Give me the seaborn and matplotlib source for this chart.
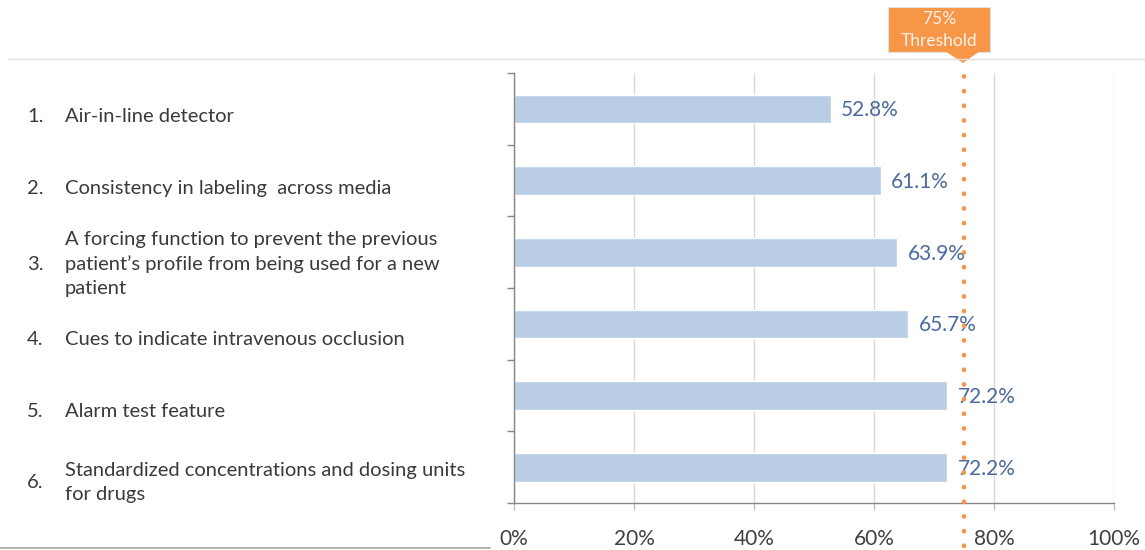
import matplotlib
matplotlib.use("Agg")
import matplotlib.pyplot as plt
import matplotlib.transforms as mtransforms
from matplotlib.patches import Rectangle, Polygon
from matplotlib.lines import Line2D
import seaborn as sns
import pandas as pd
import numpy as np

numbers = ["1.", "2.", "3.", "4.", "5.", "6."]
categories = [
    "Air-in-line detector",
    "Consistency in labeling  across media",
    "A forcing function to prevent the previous\npatient\u2019s profile from being used for a new\npatient",
    "Cues to indicate intravenous occlusion",
    "Alarm test feature",
    "Standardized concentrations and dosing units\nfor drugs",
]
values = [52.8, 61.1, 63.9, 65.7, 72.2, 72.2]
threshold = 75
xticks = [0, 20, 40, 60, 80, 100]
xticklabels = ["0%", "20%", "40%", "60%", "80%", "100%"]

sns.set_style("white")
plt.rcParams["font.family"] = ["Lato", "DejaVu Sans"]

W, H = 1145, 550
fig = plt.figure(figsize=(11.45, 5.5), dpi=100)
ax = fig.add_axes([514 / W, 1 - 503 / H, 600 / W, 430 / H])

df = pd.DataFrame({"cat": categories, "val": values})
sns.barplot(data=df, x="val", y="cat", orient="h", color="#B9CDE5",
            saturation=1, width=0.4, ax=ax)

ax.set_xlim(0, 100)
ax.set_ylim(len(categories) - 0.5, -0.5)
ax.set_xlabel("")
ax.set_ylabel("")

text_col = "#3A3A3A"
num_col = "#404040"
ax.set_xticks(xticks)
ax.set_xticklabels(xticklabels, fontsize=15, color=num_col)
ax.tick_params(axis="x", bottom=True, length=5, color="#BFBFBF", pad=14, width=1)
ax.set_yticks(np.arange(-0.5, len(categories), 1.0))
ax.set_yticklabels([])
ax.tick_params(axis="y", left=True, length=5, color="#868686", width=1)
ax.grid(axis="x", color="#D9D9D9", linewidth=1)
ax.set_axisbelow(True)
for side in ["top", "right"]:
    ax.spines[side].set_visible(False)
for side in ["left", "bottom"]:
    ax.spines[side].set_color("#868686")
    ax.spines[side].set_linewidth(1)

# value labels
for i, v in enumerate(values):
    ax.text(v + 1.7, i + 0.02, f"{v:.1f}%", va="center", ha="left",
            fontsize=15, color="#4A6A9E")

# category labels (pixel shifts relative to band centres, layout only)
label_shift = [-8, -8, -12, -16, -16, -15]
for i, (n, c) in enumerate(zip(numbers, categories)):
    off = mtransforms.offset_copy(ax.get_yaxis_transform(), fig=fig, x=0,
                                  y=label_shift[i], units="dots")
    ax.text((27 - 514) / 600, i, n, transform=off, ha="left", va="center",
            fontsize=14.5, color=text_col, clip_on=False)
    ax.text((65 - 514) / 600, i, c, transform=off, ha="left", va="center",
            fontsize=14.5, color=text_col, linespacing=1.5, clip_on=False)

# threshold dotted line
ax.axvline(threshold, ymin=(503 - 546) / 430, ymax=(503 - 66) / 430,
           color="#F79646", linestyle=(0, (0.1, 3.2)), linewidth=3.2,
           dash_capstyle="round", clip_on=False, zorder=5)

# decorative slide lines
fig.add_artist(Line2D([8 / W, 1.0], [1 - 59 / H, 1 - 59 / H], color="#E0E0E0", linewidth=1))
fig.add_artist(Line2D([0, 490 / W], [1 - 548 / H, 1 - 548 / H], color="#A6A6A6", linewidth=1.2))

# callout box
box_col = "#F79646"
fig.add_artist(Rectangle((888 / W, 1 - 52 / H), (990 - 888) / W, (52 - 7) / H,
                         transform=fig.transFigure, facecolor=box_col,
                         edgecolor="#E0E0E0", linewidth=0.8))
fig.add_artist(Polygon([(945 / W, 1 - 51 / H), (980 / W, 1 - 51 / H), (963 / W, 1 - 63 / H)],
                       closed=True, transform=fig.transFigure, facecolor=box_col,
                       edgecolor="none"))
fig.text(939 / W, 1 - 30 / H, "75%\nThreshold", ha="center", va="center",
         fontsize=12.5, color="#FDF2EA", linespacing=1.5)

fig.savefig("out.png", dpi=100)
